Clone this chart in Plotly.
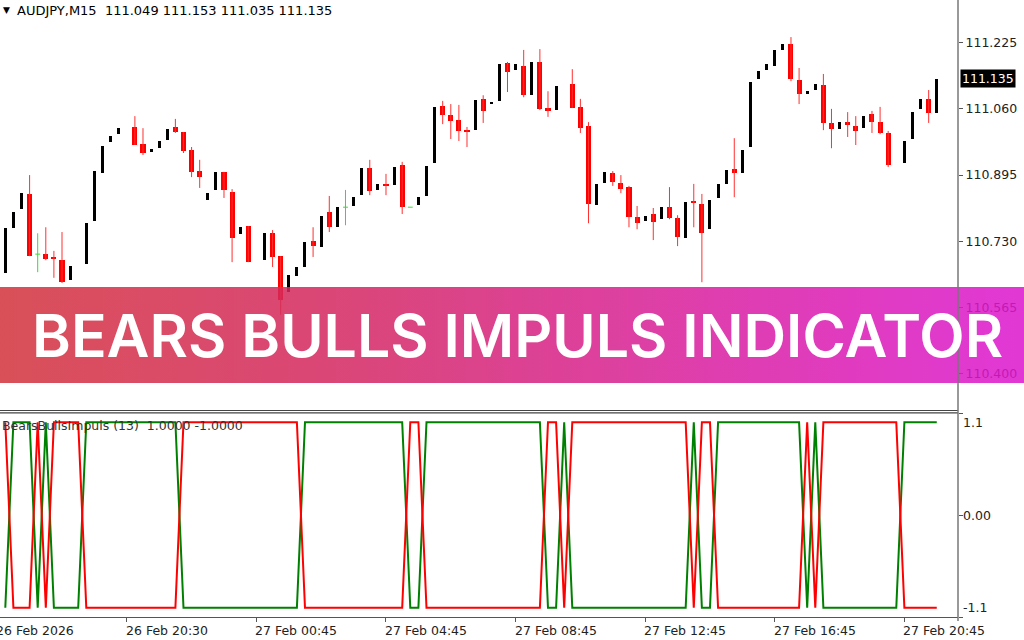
import base64
import plotly.graph_objects as go

# --- values: AUDJPY M15, one slot per bar (None = bar not visible) ---
opens = [
    110.651, 110.763, 110.810, 110.848, 110.698, 110.698, 110.691, 110.683, 110.633, None,
    110.673, 110.780, 110.900, 110.977, 110.997, None, 111.015, 110.972, 110.952, 110.962,
    110.982, 111.015, 111.002, 110.957, 110.905, 110.833, 110.858, 110.903, 110.853, 110.748,
    110.768, None, 110.683, 110.750, 110.693, 110.604, 110.644, 110.666, 110.730, 110.716,
    110.803, 110.765, 110.815, 110.818, 110.845, 110.912, 110.858, 110.873, 110.870, 110.920,
    110.815, 110.820, 110.843, 110.925, 111.067, 111.045, 111.032, 111.007, 111.007, 111.085,
    111.072, 111.080, 111.174, 111.157, 111.167, 111.094, 111.177, 111.062, 111.057, None,
    111.122, 111.065, 111.017, 110.820, 110.875, 110.900, 110.875, 110.865, 110.790, 110.780,
    110.798, 110.785, 110.815, 110.788, 110.738, 110.830, 110.823, 110.760, 110.838, 110.873,
    110.910, 110.900, 110.965, 111.134, 111.157, 111.167, 111.207, 111.222, 111.132, 111.097,
    111.107, 111.119, 111.025, 111.010, 111.027, 111.017, 111.012, 111.047, 111.027, 111.000,
    None, 110.925, 110.985, 111.060, 111.085, 111.049,
]
highs = [
    110.763, 110.803, 110.850, 110.895, 110.750, 110.765, 110.706, 110.753, 110.668, None,
    110.775, 110.905, 110.967, 110.992, 111.012, None, 111.042, 111.012, 110.960, 110.980,
    111.010, 111.035, 111.002, 110.965, 110.933, 110.850, 110.903, 110.903, 110.860, 110.765,
    110.768, None, 110.750, 110.758, 110.693, 110.646, 110.666, 110.728, 110.765, 110.793,
    110.843, 110.815, 110.858, 110.840, 110.912, 110.933, 110.873, 110.898, 110.915, 110.928,
    110.815, 110.840, 110.917, 111.065, 111.080, 111.072, 111.070, 111.015, 111.082, 111.094,
    111.077, 111.172, 111.177, 111.172, 111.207, 111.177, 111.209, 111.104, 111.117, None,
    111.159, 111.085, 111.027, 110.873, 110.903, 110.905, 110.895, 110.868, 110.818, 110.793,
    110.813, 110.815, 110.865, 110.795, 110.828, 110.873, 110.848, 110.833, 110.873, 110.907,
    110.987, 110.957, 111.127, 111.154, 111.172, 111.207, 111.222, 111.239, 111.162, 111.104,
    111.122, 111.147, 111.060, 111.027, 111.052, 111.042, 111.042, 111.055, 111.065, 111.005,
    None, 110.980, 111.052, 111.085, 111.107, 111.153,
]
lows = [
    110.651, 110.763, 110.810, 110.693, 110.653, 110.683, 110.639, 110.626, 110.633, None,
    110.673, 110.780, 110.900, 110.977, 110.997, None, 110.970, 110.945, 110.952, 110.962,
    110.982, 111.000, 110.950, 110.890, 110.863, 110.833, 110.858, 110.838, 110.678, 110.748,
    110.678, None, 110.683, 110.666, 110.547, 110.604, 110.644, 110.666, 110.691, 110.716,
    110.753, 110.765, 110.770, 110.818, 110.845, 110.845, 110.858, 110.845, 110.870, 110.798,
    110.815, 110.820, 110.843, 110.925, 111.022, 110.985, 110.980, 110.965, 111.007, 111.025,
    111.072, 111.080, 111.102, 111.157, 111.089, 111.094, 111.057, 111.040, 111.057, None,
    111.062, 111.000, 110.775, 110.820, 110.875, 110.868, 110.850, 110.765, 110.760, 110.780,
    110.733, 110.785, 110.785, 110.718, 110.738, 110.765, 110.628, 110.760, 110.838, 110.873,
    110.840, 110.900, 110.965, 111.134, 111.157, 111.167, 111.207, 111.129, 111.072, 111.097,
    111.107, 111.007, 110.962, 111.010, 110.990, 110.970, 111.012, 111.000, 110.997, 110.915,
    None, 110.925, 110.985, 111.060, 111.025, 111.035,
]
closes = [
    110.763, 110.803, 110.850, 110.693, 110.698, 110.686, 110.686, 110.628, 110.668, None,
    110.775, 110.905, 110.967, 110.992, 111.012, None, 110.970, 110.950, 110.960, 110.980,
    111.010, 111.002, 110.955, 110.903, 110.890, 110.850, 110.903, 110.858, 110.738, 110.765,
    110.678, None, 110.750, 110.691, 110.584, 110.646, 110.666, 110.728, 110.718, 110.793,
    110.765, 110.815, 110.815, 110.840, 110.912, 110.855, 110.873, 110.868, 110.915, 110.815,
    110.815, 110.840, 110.917, 111.065, 111.045, 111.030, 111.005, 111.002, 111.082, 111.055,
    111.077, 111.172, 111.152, 111.172, 111.094, 111.177, 111.060, 111.055, 111.117, None,
    111.062, 111.012, 110.823, 110.873, 110.903, 110.878, 110.860, 110.790, 110.775, 110.793,
    110.778, 110.815, 110.788, 110.740, 110.828, 110.825, 110.750, 110.833, 110.873, 110.907,
    110.900, 110.957, 111.127, 111.154, 111.172, 111.207, 111.222, 111.134, 111.097, 111.104,
    111.122, 111.025, 111.010, 111.027, 111.020, 111.005, 111.042, 111.027, 111.000, 110.920,
    None, 110.980, 111.052, 111.085, 111.050, 111.135,
]

# BearsBullsImpuls(13) buffers
bulls_line = [
    -1, 1, 1, 1, -1, 1, -1, -1, -1, -1,
    1, 1, 1, 1, 1, 1, 1, 1, 1, 1,
    1, 1, -1, -1, -1, -1, -1, -1, -1, -1,
    -1, -1, -1, -1, -1, -1, -1, 1, 1, 1,
    1, 1, 1, 1, 1, 1, 1, 1, 1, 1,
    -1, -1, 1, 1, 1, 1, 1, 1, 1, 1,
    1, 1, 1, 1, 1, 1, 1, -1, -1, 1,
    -1, -1, -1, -1, -1, -1, -1, -1, -1, -1,
    -1, -1, -1, -1, -1, 1, -1, -1, 1, 1,
    1, 1, 1, 1, 1, 1, 1, 1, 1, -1,
    1, -1, -1, -1, -1, -1, -1, -1, -1, -1,
    -1, 1, 1, 1, 1, 1,
]
bears_line = [
    1, -1, -1, -1, 1, -1, 1, 1, 1, 1,
    -1, -1, -1, -1, -1, -1, -1, -1, -1, -1,
    -1, -1, 1, 1, 1, 1, 1, 1, 1, 1,
    1, 1, 1, 1, 1, 1, 1, -1, -1, -1,
    -1, -1, -1, -1, -1, -1, -1, -1, -1, -1,
    1, 1, -1, -1, -1, -1, -1, -1, -1, -1,
    -1, -1, -1, -1, -1, -1, -1, 1, 1, -1,
    1, 1, 1, 1, 1, 1, 1, 1, 1, 1,
    1, 1, 1, 1, 1, -1, 1, 1, -1, -1,
    -1, -1, -1, -1, -1, -1, -1, -1, -1, 1,
    -1, 1, 1, 1, 1, 1, 1, 1, 1, 1,
    1, -1, -1, -1, -1, -1,
]

price_ticks = [111.225, 111.060, 110.895, 110.730, 110.565, 110.400]
last_price = 111.135
time_tick_idx = [0, 15, 31, 47, 63, 79, 95, 111]
time_tick_labels = ["26 Feb 2026", "26 Feb 20:30", "27 Feb 00:45", "27 Feb 04:45",
                    "27 Feb 08:45", "27 Feb 12:45", "27 Feb 16:45", "27 Feb 20:45"]
ind_ticks = [1.1, 0.0, -1.1]
ind_tick_labels = ["1.1", "0.00", "-1.1"]

FONT = "DejaVu Sans"
PW, PH = 958, 618  # plot area in px


def py(y):
    return 1 - y / PH


def px(x):
    return x / PW


bars = list(range(len(opens)))

# split candles into bull bodies, bear bodies (+ wicks) and dojis
up_x, up_base, up_h = [], [], []
dn_x, dn_base, dn_h = [], [], []
wick_x, wick_y = [], []
doji_x, doji_y = [], []
for i, o, h, l, c in zip(bars, opens, highs, lows, closes):
    if o is None:
        continue
    if c > o:
        up_x.append(i); up_base.append(o); up_h.append(c - o)
    elif c < o:
        dn_x.append(i); dn_base.append(c); dn_h.append(o - c)
        wick_x += [i, i, None]; wick_y += [l, h, None]
    else:
        doji_x += [i, i, None, i - 0.3, i + 0.3, None]
        doji_y += [l, h, None, o, o, None]

fig = go.Figure()
fig.add_trace(go.Scatter(x=wick_x, y=wick_y, mode='lines', line=dict(color='#ff3030', width=1),
                         hoverinfo='skip'))
fig.add_trace(go.Bar(x=dn_x, base=dn_base, y=dn_h, width=0.62,
                     marker=dict(color='#ff0000', line_width=0), hoverinfo='skip'))
fig.add_trace(go.Bar(x=up_x, base=up_base, y=up_h, width=0.37,
                     marker=dict(color='#000000', line_width=0), hoverinfo='skip'))
fig.add_trace(go.Scatter(x=doji_x, y=doji_y, mode='lines', line=dict(color='#33dd33', width=1),
                         hoverinfo='skip'))

fig.add_trace(go.Scatter(x=bars, y=bulls_line, yaxis='y2', mode='lines',
                         line=dict(color='#008000', width=2), hoverinfo='skip'))
fig.add_trace(go.Scatter(x=bars, y=bears_line, yaxis='y2', mode='lines',
                         line=dict(color='#ff0000', width=2), hoverinfo='skip'))

# --- banner: semi-transparent gradient as an inline svg image ---
alpha = 0.86
stops = [(0.0, (217, 80, 88)), (0.35, (219, 70, 122)), (0.7, (222, 62, 175)), (1.0, (226, 56, 214))]


def pure(c):
    # colour that gives the observed colour once blended on white at `alpha`
    return 'rgb(%d,%d,%d)' % tuple(round(max(0, min(255, (v - (1 - alpha) * 255) / alpha))) for v in c)


svg = ('<svg xmlns="http://www.w3.org/2000/svg" width="1024" height="96" preserveAspectRatio="none">'
       '<defs><linearGradient id="g" x1="0" y1="0" x2="1" y2="0">'
       + ''.join('<stop offset="%g" stop-color="%s"/>' % (t, pure(c)) for t, c in stops)
       + '</linearGradient></defs><rect width="1024" height="96" fill="url(#g)"/></svg>')
banner_src = 'data:image/svg+xml;base64,' + base64.b64encode(svg.encode()).decode()

images = [dict(source=banner_src, xref='paper', yref='paper', x=px(0), y=py(287),
               sizex=px(1024), sizey=(383 - 287) / PH, sizing='stretch',
               xanchor='left', yanchor='top', opacity=alpha, layer='above')]

shapes = [
    # pane frames
    dict(type='line', xref='paper', yref='paper', x0=0, x1=1, y0=py(410.5), y1=py(410.5),
         line=dict(color='#444', width=1.2)),
    dict(type='line', xref='paper', yref='paper', x0=0, x1=1, y0=py(412.8), y1=py(412.8),
         line=dict(color='#444', width=1.2)),
    dict(type='line', xref='paper', yref='paper', x0=1, x1=1, y0=py(621), y1=1,
         line=dict(color='#777', width=1.5)),
]

annotations = [
    dict(text='▼', xref='paper', yref='paper', x=px(1), y=py(10), xanchor='left', yanchor='middle',
         showarrow=False, font=dict(family=FONT, size=9, color='#000')),
    dict(text='AUDJPY,M15  111.049 111.153 111.035 111.135', xref='paper', yref='paper',
         x=px(15), y=py(10), xanchor='left', yanchor='middle', showarrow=False,
         font=dict(family=FONT, size=13, color='#000')),
    dict(text='%.3f' % last_price, xref='paper', yref='y', x=px(960), y=last_price,
         xanchor='left', yanchor='middle', showarrow=False, bgcolor='#000', borderpad=1,
         font=dict(family=FONT, size=12.5, color='#fff')),
    dict(text='BearsBullsImpuls (13)  1.0000 -1.0000', xref='paper', yref='paper',
         x=px(0), y=py(425), xanchor='left', yanchor='middle', showarrow=False,
         font=dict(family=FONT, size=12.5, color='#333')),
    dict(text='BEARS BULLS IMPULS INDICATOR', xref='paper', yref='paper', x=px(517), y=py(335),
         xanchor='center', yanchor='middle', showarrow=False,
         font=dict(family='Inter', size=59, color='#ffffff', weight=600)),
]
for val, lab in zip(ind_ticks, ind_tick_labels):
    annotations.append(dict(text=lab, xref='paper', yref='y2', x=px(961), y=val, xanchor='left',
                            yanchor='top' if val > 0 else ('bottom' if val < 0 else 'middle'),
                            showarrow=False, font=dict(family=FONT, size=12.5, color='#222')))
for idx, lab in zip(time_tick_idx, time_tick_labels):
    # the first label sits just left of the first bar and is cut by the window edge
    shift = -11 if idx == time_tick_idx[0] else -3
    annotations.append(dict(text=lab, xref='x', yref='paper', x=idx, y=py(630), xanchor='left',
                            yanchor='middle', xshift=shift, showarrow=False,
                            font=dict(family=FONT, size=12.5, color='#222')))

fig.update_layout(
    width=1024, height=640,
    margin=dict(l=0, r=66, t=0, b=22),
    paper_bgcolor='white', plot_bgcolor='white',
    showlegend=False, barmode='overlay', bargap=0,
    xaxis=dict(domain=[0, 1], range=[-0.654, 117.62], anchor='y2',
               tickvals=time_tick_idx[1:], showticklabels=False, ticks='outside', ticklen=4,
               tickcolor='#555', showline=True, linecolor='#555', linewidth=1,
               showgrid=False, zeroline=False),
    yaxis=dict(domain=[py(410), 1], range=[110.3095, 111.3314], anchor='x', side='right',
               tickvals=price_ticks, ticktext=['%.3f' % v for v in price_ticks],
               ticks='outside', ticklen=4, tickcolor='#555',
               tickfont=dict(family=FONT, size=12.5, color='#222'),
               showgrid=False, zeroline=False, showline=False),
    yaxis2=dict(domain=[py(617), py(413)], range=[-1.1, 1.1], anchor='x', side='right',
                tickvals=ind_ticks, showticklabels=False, ticks='outside', ticklen=4,
                tickcolor='#555', showgrid=False, zeroline=False, showline=False),
    images=images,
    shapes=shapes,
    annotations=annotations,
)

# page body margin would push the 1024x640 figure off-screen
fig.write_html("out.html", config={'displayModeBar': False},
               post_script="document.body.style.margin='0';")
